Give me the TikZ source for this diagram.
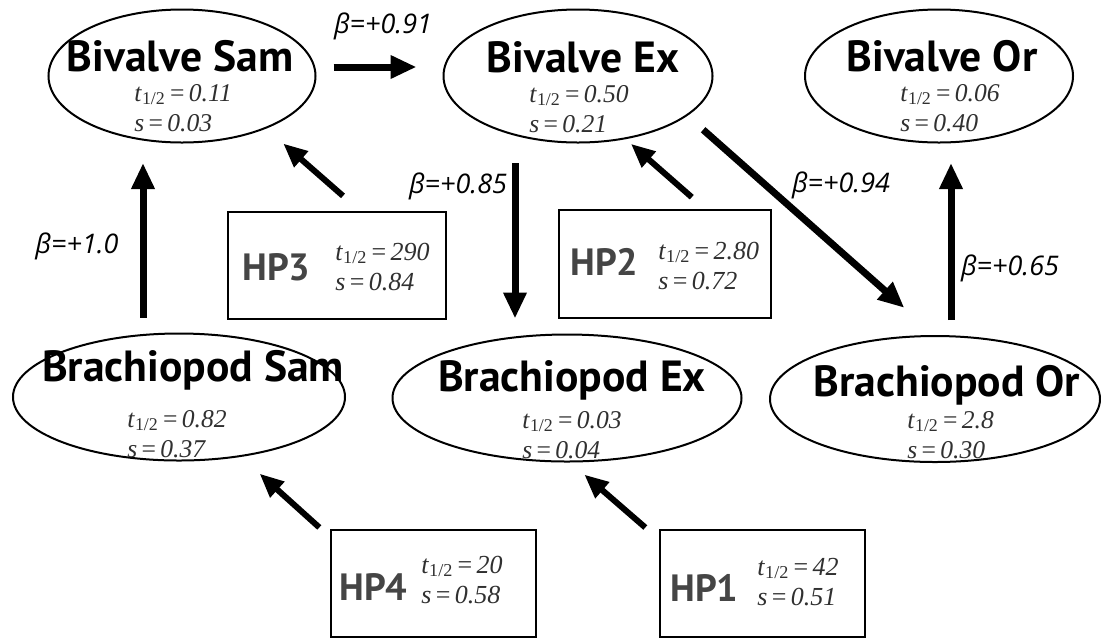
\documentclass[tikz,border=0pt]{standalone}
\usepackage{fontspec}
\setmainfont{Liberation Serif}
\newfontfamily\namefont{PT Sans}
\newfontfamily\betafont{Open Sans}
\usetikzlibrary{arrows.meta,shapes.geometric}
\definecolor{hpgray}{HTML}{454545}
\definecolor{statgray}{HTML}{303030}
\newcommand{\halflife}[1]{\textit{t}\textsubscript{1/2}\,=\,\textit{#1}}
\newcommand{\selcoef}[1]{\textit{s}\,=\,\textit{#1}}
\begin{document}
\begin{tikzpicture}[x=0.5pt,y=-0.5pt,
    taxon/.style={draw,ellipse,line width=1pt,inner sep=0pt},
    hpbox/.style={draw,rectangle,line width=1.2pt,inner sep=0pt},
    taxname/.style={font=\namefont\bfseries\fontsize{21.8}{26}\selectfont,anchor=base,inner sep=0pt},
    taxstat/.style={font=\fontsize{12.8}{15}\selectfont,align=left,anchor=base west,inner sep=0pt,text=statgray},
    hpname/.style={font=\namefont\bfseries\fontsize{19}{22}\selectfont,anchor=west,inner sep=0pt,text=hpgray},
    hpstat/.style={font=\fontsize{13}{15}\selectfont,align=left,anchor=base west,inner sep=0pt,text=statgray},
    betalabel/.style={font=\betafont\itshape\fontsize{13.5}{16}\selectfont,anchor=base,inner sep=0pt},
    bigarrow/.style={line width=3.5pt,-{Triangle[length=13pt,width=11pt]}},
    hparrow/.style={line width=3pt,-{Triangle[length=12pt,width=10pt]}}]
  \useasboundingbox (0,0) rectangle (1101,638);
  % taxa
  \node[taxon,minimum width=133.5pt,minimum height=66.5pt] (bivSam) at (182,76) {};
  \node[taxon,minimum width=134.5pt,minimum height=66.5pt] (bivEx) at (578,76) {};
  \node[taxon,minimum width=134pt,minimum height=66.5pt] (bivOr) at (939,76) {};
  \node[taxon,minimum width=166pt,minimum height=63.5pt] (braSam) at (179,397) {};
  \node[taxon,minimum width=174.5pt,minimum height=63.5pt] (braEx) at (567,398) {};
  \node[taxon,minimum width=165pt,minimum height=63pt] (braOr) at (935,399) {};
  \node[taxname] (bivSamName) at (180,71) {Bivalve Sam};
  \node[taxname] (bivExName) at (583,72) {Bivalve Ex};
  \node[taxname] (bivOrName) at (942,71) {Bivalve Or};
  \node[taxname] (braSamName) at (193,381) {Brachiopod Sam};
  \node[taxname] (braExName) at (572,391) {Brachiopod Ex};
  \node[taxname] (braOrName) at (947,396) {Brachiopod Or};
  \node[taxstat] (bivSamStat) at (134,131) {\halflife{0.11}\\\selcoef{0.03}};
  \node[taxstat] (bivExStat) at (529,132) {\halflife{0.50}\\\selcoef{0.21}};
  \node[taxstat] (bivOrStat) at (900,131) {\halflife{0.06}\\\selcoef{0.40}};
  \node[taxstat] (braSamStat) at (127,457) {\halflife{0.82}\\\selcoef{0.37}};
  \node[taxstat] (braExStat) at (522,458) {\halflife{0.03}\\\selcoef{0.04}};
  \node[taxstat] (braOrStat) at (907,458) {\halflife{2.8}\\\selcoef{0.30}};
  % hidden pathways
  \node[hpbox,minimum width=109pt,minimum height=53.5pt] (hp3) at (337,265.5) {};
  \node[hpbox,minimum width=106pt,minimum height=54pt] (hp2) at (665,264) {};
  \node[hpbox,minimum width=102.5pt,minimum height=53.5pt] (hp4) at (433.5,583.5) {};
  \node[hpbox,minimum width=102.5pt,minimum height=53.5pt] (hp1) at (762.5,583.5) {};
  \node[hpname] (hp3Name) at (242,267) {HP3};
  \node[hpname] (hp2Name) at (570,262) {HP2};
  \node[hpname] (hp4Name) at (339,587) {HP4};
  \node[hpname] (hp1Name) at (670,588) {HP1};
  \node[hpstat] (hp3Stat) at (335,290) {\halflife{290}\\\selcoef{0.84}};
  \node[hpstat] (hp2Stat) at (658,289) {\halflife{2.80}\\\selcoef{0.72}};
  \node[hpstat] (hp4Stat) at (421,603) {\halflife{20}\\\selcoef{0.58}};
  \node[hpstat] (hp1Stat) at (757,605) {\halflife{42}\\\selcoef{0.51}};
  % coefficients
  \node[betalabel] (b91) at (383,33) {β=+0.91};
  \node[betalabel] (b85) at (458,193) {β=+0.85};
  \node[betalabel] (b94) at (841,192) {β=+0.94};
  \node[betalabel] (b10) at (77,253) {β=+1.0};
  \node[betalabel] (b65) at (1010,275) {β=+0.65};
  \begin{scope}
    \draw[bigarrow,shorten <=8.5pt,shorten >=13pt] ([yshift=4.5pt]bivSam.east) -- ([yshift=4.5pt]bivEx.west);
    \draw[bigarrow,shorten <=7.5pt,shorten >=9.75pt] ([xshift=-19.5pt]bivSam.south |- braSam.north) -- ([xshift=-19.5pt]bivSam.south);
    \draw[bigarrow,shorten <=9.75pt,shorten >=7.5pt] ([xshift=-31.5pt]bivEx.south) -- ([xshift=-31.5pt]bivEx.south |- braEx.north);
    \draw[bigarrow,shorten <=7.5pt,shorten >=9.75pt] ([xshift=6pt]bivOr.south |- braOr.north) -- ([xshift=6pt]bivOr.south);
    \draw[bigarrow,shorten <=10.5pt,shorten >=20.5pt] (bivEx.-20) -- (braOr.north);
    \draw[hparrow,shorten <=11.3pt,shorten >=11.3pt] ([xshift=11.5pt]hp3.north) -- (bivSam.-32);
    \draw[hparrow,shorten <=8.8pt,shorten >=3.5pt] ([xshift=20pt]hp2.north) -- (bivEx.-53);
    \draw[hparrow,shorten <=1pt,shorten >=12.5pt] ([xshift=-4.5pt]hp4.north west) -- (braSam.-44);
    \draw[hparrow,shorten <=1pt,shorten >=9.2pt] ([xshift=-6pt]hp1.north west) -- (braEx.-87);
  \end{scope}
\end{tikzpicture}
\end{document}
